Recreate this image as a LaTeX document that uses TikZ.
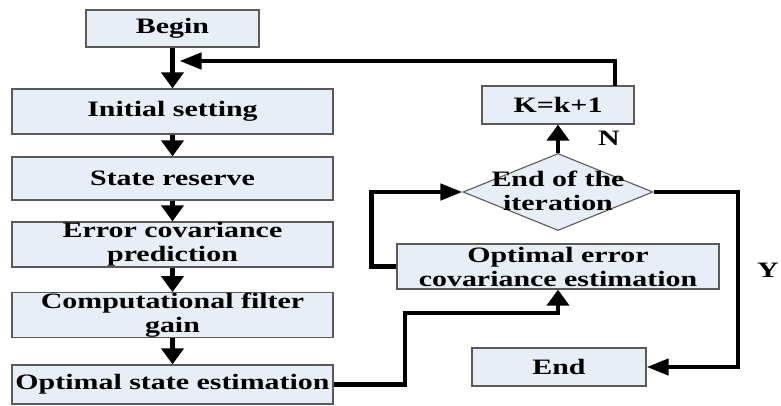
\documentclass[tikz,border=0pt]{standalone}
\usepackage{fontspec}
\setmainfont{Liberation Serif}[FakeStretch=1.36]
\usetikzlibrary{arrows.meta,shapes.geometric}

\definecolor{boxfill}{RGB}{232,238,248}
\definecolor{boxline}{RGB}{90,90,90}

\tikzset{
    stepbox/.style={draw=boxline, line width=1.3pt, fill=boxfill, inner sep=0pt,
        align=center, font=\fontsize{22}{24}\selectfont\bfseries},
    decision/.style={draw=boxline, line width=1.1pt, fill=boxfill, diamond,
        inner sep=0pt, minimum width=190pt, minimum height=77pt},
    mark label/.style={font=\fontsize{22}{24}\selectfont\bfseries},
    vflow/.style={line width=4.3pt, -{Triangle[width=22pt,length=16pt]}},
    hflow/.style={line width=4.3pt, -{Triangle[width=16pt,length=22pt]}},
    plain/.style={line width=4.3pt}
}

\begin{document}
\begin{tikzpicture}[x=1pt, y=-1pt]

\useasboundingbox (0,0) rectangle (781,405);

% left column
\node [stepbox, minimum width=173pt, minimum height=37pt] (begin) at (172.5, 28.5) {Begin};
\node [stepbox, minimum width=321pt, minimum height=45pt] (init) at (172.5, 111.5) {Initial setting};
\node [stepbox, minimum width=321pt, minimum height=43pt] (reserve) at (172.5, 178.5) {State reserve};
\node [stepbox, minimum width=321pt, minimum height=45pt] (errpred) at (172.5, 244.5) {Error covariance\\prediction};
\node [stepbox, minimum width=321pt, minimum height=44pt] (gain) at (172.5, 315) {Computational filter\\gain};
\node [stepbox, minimum width=321pt, minimum height=39pt] (optstate) at (172.5, 384.5) {Optimal state estimation};

% right column
\node [stepbox, minimum width=152pt, minimum height=38pt] (kupd) at (558, 105) {K=k+1};
\node [decision] (iter) at (558, 192) {};
\node [mark label, align=center] (iterlbl) at (558, 191) {End of the\\iteration};
\node [stepbox, minimum width=322pt, minimum height=45pt] (opterr) at (558, 266.5) {Optimal error\\covariance estimation};
\node [stepbox, minimum width=174pt, minimum height=38pt] (endbox) at (559, 367) {End};

\node [mark label] (nlabel) at (609, 138) {N};
\node [mark label] (ylabel) at (768, 270) {Y};

\coordinate (join) at (172.5, 61);
\coordinate (loopup) at (615, 61);
\coordinate (kout) at (615, 86);
\coordinate (sbend) at (405, 313);
\coordinate (ycorner) at (738, 367);

\foreach \a/\b in {begin/init, init/reserve, reserve/errpred, errpred/gain, gain/optstate}
    \draw [vflow] (\a.south) -- (\b.north);

\draw [hflow, shorten >=7pt] (kout) -- (loopup) -- (join);
\draw [vflow] (iter.north) -- (kupd.south);
\draw [vflow] (optstate.east) -| (sbend) -| (opterr.south);
\draw [hflow] (opterr.west) -- ++(-25,0) |- (iter.west);
\draw [hflow] (iter.east) -| (ycorner) -- (endbox.east);

\end{tikzpicture}
\end{document}
